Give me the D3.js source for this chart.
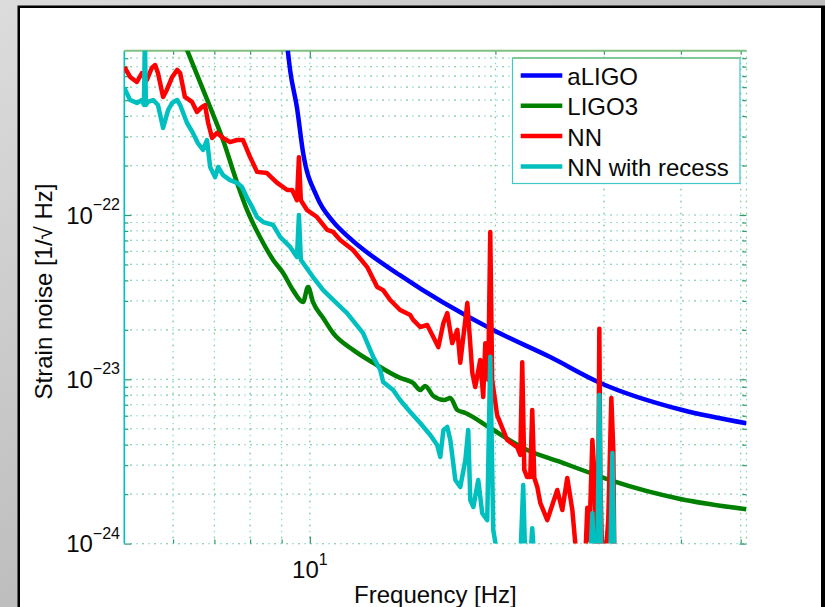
<!DOCTYPE html>
<html lang="en">
<head>
  <meta charset="UTF-8">
  <title>Strain noise: aLIGO, LIGO3, NN</title>
  <script src="https://d3js.org/d3.v7.min.js"></script>
  <style>
    body { margin: 0; }
    svg { display: block; font-family: "Liberation Sans", Arial, sans-serif; }
  </style>
</head>
<body>
  <svg width="825" height="607"></svg>

  <script>
    // frequency [Hz] and strain noise [1/sqrt(Hz)]
    const aligoF = [9.05, 9.19, 9.29, 9.53, 9.75, 10.27, 10.91, 11.62, 14.0, 19.8, 24.5, 29.6, 40.2, 51.1];
    const aligoV = [2e-21, 1.08e-21, 7.6e-22, 4.5e-22, 2.4e-22, 1.29e-22, 9.1e-23, 7.2e-23, 4.3e-23, 2.0e-23, 1.37e-23, 9.5e-24, 6.5e-24, 5.4e-24];

    const ligo3F = [6.13, 6.32, 6.89, 7.23, 7.62, 7.91, 8.30, 8.72, 9.05, 9.39, 9.75, 9.93, 10.12, 10.51, 10.91, 11.75,
      12.67, 14.01, 14.71, 15.10, 15.38, 15.86, 16.52, 16.90, 17.35, 17.88, 19.62, 22.52, 25.48, 28.51, 31.07, 39.9, 51.1];
    const ligo3V = [1.34e-21, 1.01e-21, 4.54e-22, 2.86e-22, 1.57e-22, 1.07e-22, 7.35e-23, 5.33e-23, 4.44e-23, 3.49e-23,
      2.95e-23, 3.65e-23, 2.95e-23, 2.36e-23, 1.91e-23, 1.51e-23, 1.26e-23, 1.02e-23, 9.5e-24, 8.61e-24, 9.11e-24,
      7.91e-24, 7.48e-24, 7.7e-24, 6.5e-24, 6.24e-24, 5.05e-24, 3.71e-24, 3.14e-24, 2.69e-24, 2.4e-24, 1.87e-24, 1.62e-24];

    const nnF = [5.00, 5.11, 5.24, 5.34, 5.44, 5.54, 5.61, 5.67, 5.78, 5.86, 5.98, 6.09, 6.16, 6.27, 6.44, 6.56, 6.68,
      6.76, 6.84, 6.94, 7.07, 7.23, 7.42, 7.62, 7.79, 8.00, 8.21, 8.52, 8.85, 9.19, 9.36, 9.53, 9.60, 9.67, 9.90,
      10.27, 10.67, 10.91, 11.20, 11.75, 12.39, 12.86, 13.15, 13.50, 14.01, 14.55, 14.71, 15.10, 15.50, 15.86, 16.16,
      16.47, 16.71, 17.02, 17.35, 17.54, 18.01, 18.35, 18.55, 18.90, 19.11, 19.26, 19.47, 19.62, 19.76, 20.13, 20.90,
      21.69, 21.95, 22.11, 22.28, 22.52, 22.78, 22.95, 23.13, 23.39, 23.65, 24.28, 25.20, 25.68, 26.16, 26.66, 26.96,
      27.47, 27.98, 28.19, 28.40, 28.73, 28.93, 29.15, 29.38, 29.49, 29.60, 29.81, 30.16, 30.49, 30.84, 31.07, 31.19];
    const nnV = [7.96e-22, 6.92e-22, 6.45e-22, 7.31e-22, 6.63e-22, 7.85e-22, 8.18e-22, 7.31e-22, 5.23e-22, 5.77e-22,
      6.92e-22, 7.64e-22, 7.31e-22, 5.23e-22, 4.88e-22, 4.24e-22, 4.54e-22, 4.67e-22, 3.63e-22, 2.94e-22, 3.16e-22,
      2.94e-22, 2.78e-22, 2.86e-22, 2.86e-22, 2.25e-22, 1.83e-22, 1.80e-22, 1.57e-22, 1.42e-22, 1.42e-22, 1.23e-22,
      2.25e-22, 1.23e-22, 1.07e-22, 9.72e-23, 8.11e-23, 7.89e-23, 7.04e-23, 6.12e-23, 4.82e-23, 3.65e-23, 3.49e-23,
      3.04e-23, 2.64e-23, 2.46e-23, 2.30e-23, 2.08e-23, 2.14e-23, 1.81e-23, 1.57e-23, 2.20e-23, 2.53e-23, 1.66e-23,
      2.00e-23, 1.26e-23, 2.91e-23, 1.09e-23, 8.98e-24, 1.31e-23, 7.80e-24, 1.66e-23, 9.91e-24, 7.89e-23, 9.91e-24,
      6.06e-24, 4.27e-24, 3.87e-24, 3.46e-24, 1.27e-23, 2.81e-24, 2.54e-24, 2.54e-24, 6.50e-24, 2.51e-24, 2.21e-24,
      1.77e-24, 1.39e-24, 2.12e-24, 1.60e-24, 2.51e-24, 1.60e-24, 1.0e-24, 8e-25, 8e-25, 1.65e-24, 1.05e-24, 4.27e-24,
      2.81e-24, 8e-25, 2.51e-24, 2.03e-23, 2.44e-24, 8e-25, 8e-25, 1.39e-24, 7.70e-24, 3.71e-24, 8e-25];

    const recessF = [5.00, 5.11, 5.24, 5.34, 5.38, 5.40, 5.42, 5.46, 5.57, 5.67, 5.78, 5.89, 5.98, 6.09, 6.16, 6.32,
      6.46, 6.58, 6.71, 6.81, 6.89, 7.02, 7.10, 7.23, 7.42, 7.62, 7.76, 7.91, 8.06, 8.21, 8.40, 8.72, 8.95, 9.29,
      9.53, 9.60, 9.67, 9.75, 10.12, 10.51, 10.91, 11.49, 12.20, 12.67, 13.01, 13.15, 13.65, 14.01, 14.55, 15.10,
      15.68, 16.09, 16.28, 16.47, 16.71, 16.90, 17.22, 17.54, 17.88, 18.07, 18.21, 18.42, 18.76, 19.04, 19.40, 19.62,
      19.84, 20.21, 21.95, 22.19, 22.36, 22.78, 22.95, 23.13, 28.51, 28.73, 28.93, 29.27, 29.49, 29.70, 30.73, 30.96, 31.19];
    const recessV = [5.93e-22, 5.01e-22, 4.81e-22, 5.01e-22, 4.67e-22, 1.2e-21, 4.67e-22, 4.88e-22, 5.01e-22, 4.67e-22,
      3.39e-22, 4.36e-22, 4.81e-22, 5.01e-22, 4.67e-22, 3.63e-22, 3.16e-22, 2.74e-22, 2.49e-22, 2.86e-22, 1.96e-22,
      1.70e-22, 1.96e-22, 1.75e-22, 1.63e-22, 1.57e-22, 1.48e-22, 1.27e-22, 1.12e-22, 9.72e-23, 9.06e-23, 8.69e-23,
      7.35e-23, 6.39e-23, 5.55e-23, 1.0e-22, 5.33e-23, 5.10e-23, 4.19e-23, 3.49e-23, 3.04e-23, 2.53e-23, 1.91e-23,
      1.37e-23, 1.14e-23, 9.63e-24, 8.61e-24, 7.48e-24, 6.32e-24, 5.42e-24, 4.58e-24, 3.98e-24, 3.37e-24, 4.91e-24,
      5.13e-24, 4.27e-24, 2.44e-24, 2.21e-24, 3.23e-24, 4.91e-24, 1.84e-24, 1.67e-24, 2.44e-24, 1.53e-24, 1.39e-24,
      1.37e-23, 1.21e-24, 8e-25, 8e-25, 2.27e-24, 8e-25, 8e-25, 1.24e-24, 8e-25, 8e-25, 1.53e-24, 8e-25, 8e-25,
      8.02e-24, 8e-25, 8e-25, 3.56e-24, 8e-25];

    const seriesNames = ["aLIGO", "LIGO3", "NN", "NN with recess"];
    const seriesColors = ["#0000ff", "#008000", "#ff0000", "#00bfbf"];

    const yMajor = [1e-24, 1e-23, 1e-22];
    const yDecades = [1e-24, 1e-23, 1e-22];
    const minorMult = [2, 3, 4, 5, 6, 7, 8, 9];
    const xMinor = [6, 7, 8, 9, 20, 30, 40, 50];
    const xMajor = [10];

    const svg = d3.select("svg");
    const width = +svg.attr("width");
    const height = +svg.attr("height");
    const plot = { left: 124.3, right: 746.5, top: 50.7, bottom: 543.6 };

    const x = d3.scaleLog().domain([5, 51.1]).range([plot.left, plot.right]);
    const y = d3.scaleLog().domain([1e-24, 1e-21]).range([plot.bottom, plot.top]);

    const yMinor = [];
    yDecades.forEach(d => minorMult.forEach(m => yMinor.push(m * d)));

    // window frame around the figure
    const defs = svg.append("defs");
    const grad = defs.append("linearGradient").attr("id", "bg")
      .attr("x1", 0).attr("y1", 0).attr("x2", 1).attr("y2", 1);
    grad.append("stop").attr("offset", 0).attr("stop-color", "#dcdcdc");
    grad.append("stop").attr("offset", 1).attr("stop-color", "#a0a0a0");
    svg.append("rect").attr("width", width).attr("height", height).attr("fill", "url(#bg)");
    svg.append("rect").attr("x", 17.5).attr("y", 5.5).attr("width", 808).attr("height", 610).attr("fill", "#000");
    svg.append("rect").attr("x", 20).attr("y", 8).attr("width", 801).attr("height", 610).attr("fill", "#fff");

    defs.append("clipPath").attr("id", "clip").append("rect")
      .attr("x", plot.left).attr("y", plot.top)
      .attr("width", plot.right - plot.left).attr("height", plot.bottom - plot.top);

    // dotted grid, cyan and green dots alternating
    const gridX = xMinor.concat(xMajor, [51.1]);
    const gridY = yMinor.concat(yMajor);
    const grid = svg.append("g");
    [["#8adada", "1.5 4.5", 0], ["#92cc92", "1.5 10.5", 6]].forEach(([col, dash, off]) => {
      grid.append("g").selectAll("line").data(gridX).join("line")
        .attr("x1", d => x(d)).attr("x2", d => x(d))
        .attr("y1", plot.top).attr("y2", plot.bottom)
        .attr("stroke", col).attr("stroke-width", 1.2)
        .attr("stroke-dasharray", dash).attr("stroke-dashoffset", off);
      grid.append("g").selectAll("line").data(gridY).join("line")
        .attr("y1", d => y(d)).attr("y2", d => y(d))
        .attr("x1", plot.left).attr("x2", plot.right)
        .attr("stroke", col).attr("stroke-width", 1.2)
        .attr("stroke-dasharray", dash).attr("stroke-dashoffset", off);
    });

    // inward ticks
    function ticks(axis, vals, size, transform) {
      svg.append("g").attr("transform", transform)
        .call(axis.tickValues(vals).tickSize(size).tickFormat(""))
        .call(g => g.select(".domain").remove())
        .call(g => g.selectAll("line").attr("stroke", "#2e9a6e").attr("stroke-width", 1.2));
    }
    ticks(d3.axisLeft(y), yMinor, -4, `translate(${plot.left},0)`);
    ticks(d3.axisLeft(y), yMajor, -7, `translate(${plot.left},0)`);
    ticks(d3.axisRight(y), yMinor, -4, `translate(${plot.right},0)`);
    ticks(d3.axisRight(y), yMajor, -7, `translate(${plot.right},0)`);
    ticks(d3.axisBottom(x), xMinor, -4, `translate(0,${plot.bottom})`);
    ticks(d3.axisBottom(x), xMajor, -7, `translate(0,${plot.bottom})`);
    ticks(d3.axisTop(x), xMinor, -4, `translate(0,${plot.top})`);
    ticks(d3.axisTop(x), xMajor, -7, `translate(0,${plot.top})`);

    // solid left and top axis lines
    svg.append("line").attr("x1", plot.left).attr("x2", plot.left)
      .attr("y1", plot.top).attr("y2", plot.bottom)
      .attr("stroke", "#00c0c0").attr("stroke-width", 1.6);
    svg.append("line").attr("x1", plot.left).attr("x2", plot.right)
      .attr("y1", plot.top).attr("y2", plot.top)
      .attr("stroke", "#80c080").attr("stroke-width", 2);

    // curves
    const series = [
      { f: aligoF, v: aligoV, curve: d3.curveMonotoneX },
      { f: ligo3F, v: ligo3V, curve: d3.curveMonotoneX },
      { f: nnF, v: nnV, curve: d3.curveLinear },
      { f: recessF, v: recessV, curve: d3.curveLinear }
    ];
    const curves = svg.append("g").attr("clip-path", "url(#clip)");
    series.forEach((s, i) => {
      const pts = s.f.map((f, j) => [f, s.v[j]]);
      curves.append("path")
        .attr("d", d3.line().x(d => x(d[0])).y(d => y(d[1])).curve(s.curve)(pts))
        .attr("fill", "none")
        .attr("stroke", seriesColors[i])
        .attr("stroke-width", 4.5)
        .attr("stroke-linejoin", "round");
    });

    // tick labels
    const labels = svg.append("g").attr("fill", "#0a0a0a");
    yMajor.forEach(v => {
      const t = labels.append("text")
        .attr("x", 120).attr("y", y(v) + 8.5)
        .attr("text-anchor", "end").attr("font-size", 24).text("10");
      t.append("tspan").attr("dy", -13.5).attr("font-size", 16)
        .text("\u2212" + Math.abs(Math.round(Math.log10(v))));
    });
    xMajor.forEach(f => {
      const t = labels.append("text")
        .attr("x", x(f)).attr("y", 578)
        .attr("text-anchor", "middle").attr("font-size", 24).text("10");
      t.append("tspan").attr("dy", -13).attr("font-size", 16)
        .text(Math.round(Math.log10(f)));
    });

    labels.append("text")
      .attr("x", (plot.left + plot.right) / 2).attr("y", 603)
      .attr("text-anchor", "middle").attr("font-size", 24)
      .text("Frequency [Hz]");
    labels.append("text")
      .attr("transform", "translate(52,291.5) rotate(-90)")
      .attr("text-anchor", "middle").attr("font-size", 24)
      .text("Strain noise [1/\u221A Hz]");

    // legend
    const legend = svg.append("g");
    legend.append("rect")
      .attr("x", 512.5).attr("y", 58).attr("width", 227.5).attr("height", 125.5)
      .attr("fill", "#fff").attr("stroke", "#40c8c8").attr("stroke-width", 1.2);
    legend.append("line").attr("x1", 512.5).attr("x2", 740).attr("y1", 58).attr("y2", 58)
      .attr("stroke", "#80c080").attr("stroke-width", 1.5);
    seriesNames.forEach((name, i) => {
      const ly = 75.5 + i * 30.3;
      legend.append("line").attr("x1", 520.7).attr("x2", 562.3)
        .attr("y1", ly).attr("y2", ly)
        .attr("stroke", seriesColors[i]).attr("stroke-width", 4.5);
      legend.append("text").attr("x", 567.3).attr("y", ly + 9.5)
        .attr("font-size", 24).attr("fill", "#0a0a0a").text(name);
    });
  </script>
</body>
</html>
